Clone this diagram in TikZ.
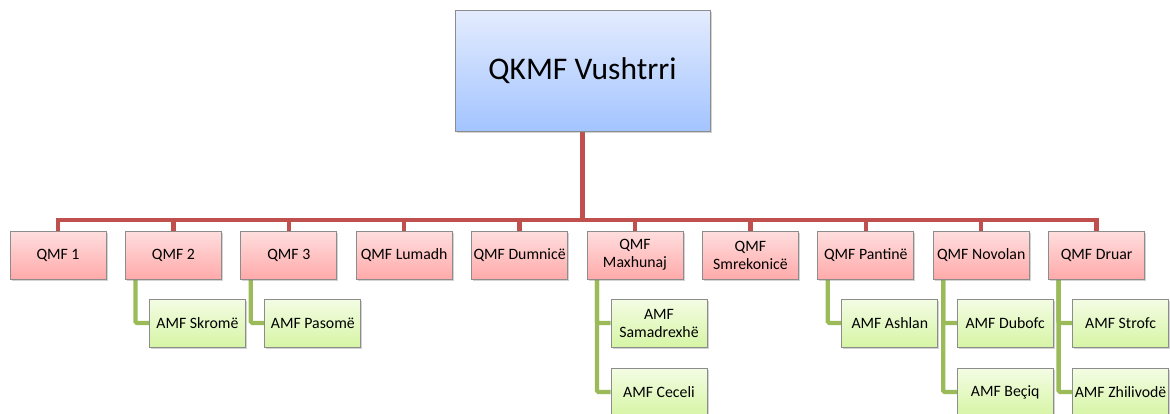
\documentclass[tikz,border=0pt]{standalone}
\usepackage{fontspec}
\setmainfont{Carlito}
\usetikzlibrary{shadows}
\pgfdeclarelayer{background}
\pgfsetlayers{background,main}
\definecolor{redline}{RGB}{192,80,77}
\definecolor{greenline}{RGB}{155,187,89}
\definecolor{boxborder}{RGB}{140,140,140}
\tikzset{
  basebox/.style={draw=boxborder, line width=0.8pt, inner sep=0pt, align=center,
    font=\fontsize{15.8}{18}\selectfont,
    drop shadow={opacity=0.35, shadow xshift=1.5pt, shadow yshift=-1.5pt}},
  topbox/.style={basebox, minimum width=255pt, minimum height=121pt,
    top color={rgb,255:red,228;green,236;blue,254}, bottom color={rgb,255:red,163;green,196;blue,255},
    font=\fontsize{31.5}{36}\selectfont},
  qbox/.style={basebox, minimum width=96pt, minimum height=48pt,
    top color={rgb,255:red,255;green,222;blue,222}, bottom color={rgb,255:red,255;green,170;blue,170}},
  abox/.style={basebox, minimum width=96pt, minimum height=48pt,
    top color={rgb,255:red,244;green,252;blue,228}, bottom color={rgb,255:red,214;green,245;blue,165}},
  redconn/.style={draw=redline, line width=4.3pt},
  greenconn/.style={draw=greenline, line width=4.3pt, rounded corners=1.5pt},
}
\begin{document}
\begin{tikzpicture}[x=1pt, y=-1pt]
\useasboundingbox (0,0) rectangle (1170,413);
\node[topbox] (top) at (582.5,70.5) {QKMF Vushtrri};
\node[qbox] (q1) at (58,255) {QMF 1};
\node[qbox] (q2) at (173.4,255) {QMF 2};
\node[qbox] (q3) at (288.8,255) {QMF 3};
\node[qbox] (q4) at (404.2,255) {QMF Lumadh};
\node[qbox] (q5) at (519.6,255) {QMF Dumnicë};
\node[qbox] (q6) at (635,255) {QMF\\Maxhunaj};
\node[qbox] (q7) at (750.4,255) {QMF\\Smrekonicë};
\node[qbox] (q8) at (865.8,255) {QMF Pantinë};
\node[qbox] (q9) at (981.2,255) {QMF Novolan};
\node[qbox] (q10) at (1096.6,255) {QMF Druar};
\node[abox] (a2) at (197.4,323) {AMF Skromë};
\node[abox] (a3) at (312.8,323) {AMF Pasomë};
\node[abox] (a6a) at (659,323) {AMF\\Samadrexhë};
\node[abox] (a6b) at (659,392) {AMF Ceceli};
\node[abox] (a8) at (889.8,323) {AMF Ashlan};
\node[abox] (a9a) at (1005.2,323) {AMF Dubofc};
\node[abox] (a9b) at (1005.2,392) {AMF Beçiq};
\node[abox] (a10a) at (1120.6,323) {AMF Strofc};
\node[abox] (a10b) at (1120.6,392) {AMF Zhilivodë};
\coordinate (bar) at (0,220);
\begin{pgfonlayer}{background}
  \draw[redconn] (top.south) -- (top.south |- bar);
  \foreach \q in {q1,q2,q3,q4,q5,q6,q7,q8,q9,q10}
    \draw[redconn] (\q.north) |- (top.south |- bar);
  \draw[greenconn] ([xshift=-38pt]q2.south) |- (a2.west);
  \draw[greenconn] ([xshift=-38pt]q3.south) |- (a3.west);
  \draw[greenconn] ([xshift=-38pt]q6.south) |- (a6a.west);
  \draw[greenconn] ([xshift=-38pt]q6.south) |- (a6b.west);
  \draw[greenconn] ([xshift=-38pt]q8.south) |- (a8.west);
  \draw[greenconn] ([xshift=-38pt]q9.south) |- (a9a.west);
  \draw[greenconn] ([xshift=-38pt]q9.south) |- (a9b.west);
  \draw[greenconn] ([xshift=-38pt]q10.south) |- (a10a.west);
  \draw[greenconn] ([xshift=-38pt]q10.south) |- (a10b.west);
\end{pgfonlayer}
\end{tikzpicture}
\end{document}
